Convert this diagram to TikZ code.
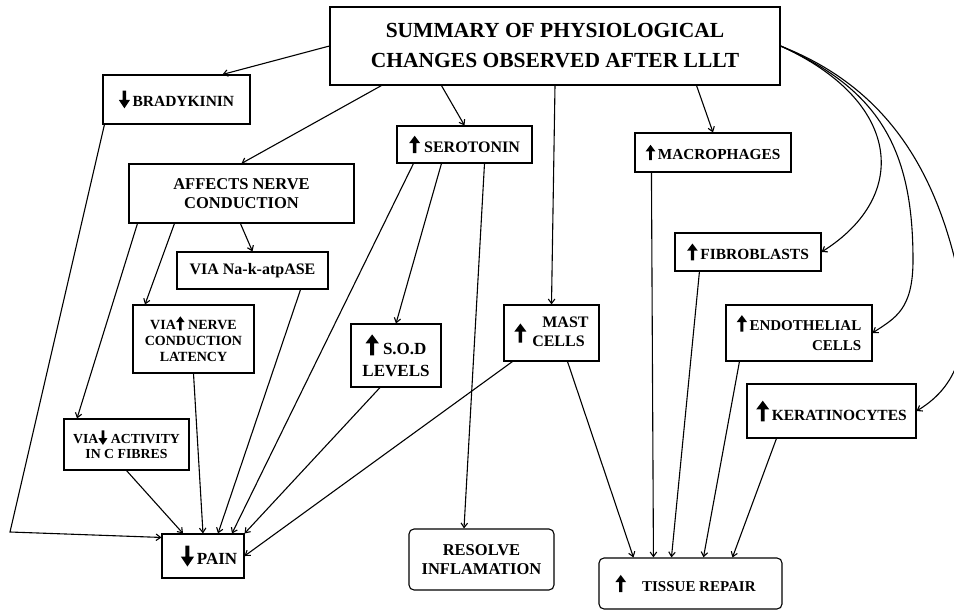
\documentclass[tikz,border=0pt]{standalone}
\usepackage{fontspec}
\setmainfont{Liberation Serif}
\usetikzlibrary{arrows.meta}
\newcommand{\UpA}[1][1]{\tikz[baseline=0pt,x=#1em,y=#1em,sharp corners]{\fill (-0.09,-0.05)--(0.09,-0.05)--(0.09,0.5)--(0.3,0.5)--(0,0.9)--(-0.3,0.5)--(-0.09,0.5)--cycle;}}
\newcommand{\DnA}[1][1]{\tikz[baseline=0pt,x=#1em,y=#1em,sharp corners]{\fill (-0.09,0.85)--(0.09,0.85)--(0.09,0.35)--(0.3,0.35)--(0,-0.1)--(-0.3,0.35)--(-0.09,0.35)--cycle;}}
\newcommand{\fs}[2]{\fontsize{#1}{#2}\selectfont}
\tikzset{
  box/.style={draw, line width=1.1pt, inner sep=0pt, align=center, font=\bfseries},
  rbox/.style={box, rounded corners=5pt},
  conn/.style={line width=1.1pt, -{Straight Barb[length=4.5pt,width=6.5pt]}}
}
\begin{document}
\begin{tikzpicture}[x=1pt,y=-1pt]
\useasboundingbox (0,0) rectangle (954,610);
\fill[white] (0,0) rectangle (954,610);
% nodes
\node[box, minimum width=450pt, minimum height=78pt, font=\bfseries\fs{21.5}{30}] (sum) at (555,46) {SUMMARY OF PHYSIOLOGICAL\\CHANGES OBSERVED AFTER LLLT};
\node[box, minimum width=147pt, minimum height=49pt, font=\bfseries\fs{15.5}{19}] (brad) at (176.5,99.5) {\DnA[1.2]\,BRADYKININ};
\node[box, minimum width=225pt, minimum height=59pt, font=\bfseries\fs{16.5}{19}] (aff) at (241.5,193.5) {AFFECTS NERVE\\CONDUCTION};
\node[box, minimum width=135pt, minimum height=37pt, font=\bfseries\fs{16}{19}] (sero) at (464.5,144.5) {\UpA[1.15]\ SEROTONIN};
\node[box, minimum width=156pt, minimum height=39pt, font=\bfseries\fs{15.3}{19}] (macro) at (713,152.5) {\UpA[1.05]\,MACROPHAGES};
\node[box, minimum width=151pt, minimum height=37pt, font=\bfseries\fs{16}{19}] (nak) at (252.5,270.5) {VIA Na-k-atpASE};
\node[box, minimum width=121pt, minimum height=68pt, font=\bfseries\fs{14}{16}] (lat) at (193.5,339) {VIA\UpA[1.05] NERVE\\CONDUCTION\\LATENCY};
\node[box, minimum width=90pt, minimum height=63pt, font=\bfseries\fs{17}{22}] (sod) at (396,355.5) {\UpA[1.3]\ S.O.D\\LEVELS};
\node[box, minimum width=146pt, minimum height=38pt, font=\bfseries\fs{15.5}{19}] (fib) at (748,252) {\UpA[1.15]\,FIBROBLASTS};
\node[box, minimum width=95pt, minimum height=56pt, font=\bfseries\fs{16}{19}] (mast) at (551.5,333) {$\vcenter{\hbox{\UpA[1.25]}}$\hspace{2pt}\begin{tabular}{@{}c@{}}\hspace{14pt}MAST\\CELLS\end{tabular}};
\node[box, minimum width=146pt, minimum height=56pt, align=right, font=\bfseries\fs{15}{20}] (endo) at (799,333) {\UpA[1.15]\,ENDOTHELIAL\\CELLS};
\node[box, minimum width=169pt, minimum height=54pt, font=\bfseries\fs{15.5}{19}] (kera) at (831.5,411) {\UpA[1.4]\,KERATINOCYTES};
\node[box, minimum width=125pt, minimum height=51pt, font=\bfseries\fs{13.8}{15}] (cfib) at (126.5,444.5) {VIA\DnA[1.1]\ ACTIVITY\\IN C FIBRES};
\node[box, minimum width=82pt, minimum height=44pt, font=\bfseries\fs{17}{19}] (pain) at (203,556) {\hspace*{12pt}\DnA[1.3]\,PAIN};
\node[rbox, minimum width=145pt, minimum height=61pt, font=\bfseries\fs{16.5}{19}] (res) at (481.5,559.5) {RESOLVE\\INFLAMATION};
\node[rbox, minimum width=183pt, minimum height=51pt, font=\bfseries\fs{15}{19}] (tis) at (690.5,583.5) {\UpA[1.2]\hspace{16pt}TISSUE REPAIR\hspace*{10pt}};
\coordinate (bk) at (10,532);
% connectors from summary
\draw[conn] (sum.west) -- ([xshift=46pt]brad.north);
\draw[conn] ([xshift=52pt]sum.south west) -- (aff.north);
\draw[conn] ([xshift=112pt]sum.south west) -- (sero.north);
\draw[conn] (sum.south) -- (mast.north);
\draw[conn] ([xshift=-84pt]sum.south east) -- (macro.north);
\draw[conn] (sum.east) .. controls (900,100) and (912,195) .. (fib.east);
\draw[conn] (sum.east) .. controls (880,90) and (913,150) .. (913,260) .. controls (913,310) and (895,318) .. (endo.east);
\begin{scope}
\clip (0,0) rectangle (954,610);
\draw[conn] (sum.east) .. controls (880,85) and (930,160) .. (955,260) .. controls (975,340) and (960,385) .. (kera.east);
\end{scope}
% pain side
\draw[conn] ([xshift=2pt]brad.south west) -- (bk) -- ([yshift=-4pt]pain.north west);
\draw[conn] ([xshift=9pt]aff.south west) -- ([xshift=-49.5pt]cfib.north);
\draw[conn] ([xshift=46pt]aff.south west) -- ([xshift=-48.5pt]lat.north);
\draw[conn] ([xshift=112pt]aff.south west) -- (nak.north);
\draw[conn] (cfib.south) -- ([xshift=-20pt]pain.north);
\draw[conn] (lat.south) -- (pain.north);
\draw[conn] ([xshift=-28pt]nak.south east) -- ([xshift=15pt]pain.north);
\draw[conn] ([xshift=17pt]sero.south west) -- ([xshift=29pt]pain.north);
\draw[conn] ([xshift=45pt]sero.south west) -- (sod.north);
\draw[conn] ([xshift=-16pt]sod.south) -- (pain.north east);
\draw[conn] ([xshift=9pt]mast.south west) -- (pain.east);
\draw[conn] ([xshift=20pt]sero.south) -- ([xshift=-17.5pt]res.north);
% tissue repair
\draw[conn] ([xshift=16pt]mast.south) -- ([xshift=35pt]tis.north west);
\draw[conn] ([xshift=17pt]macro.south west) -- ([xshift=55pt]tis.north west);
\draw[conn] ([xshift=25pt]fib.south west) -- ([xshift=73pt]tis.north west);
\draw[conn] ([xshift=14pt]endo.south west) -- ([xshift=105pt]tis.north west);
\draw[conn] ([xshift=30pt]kera.south west) -- ([xshift=134pt]tis.north west);
\end{tikzpicture}
\end{document}
